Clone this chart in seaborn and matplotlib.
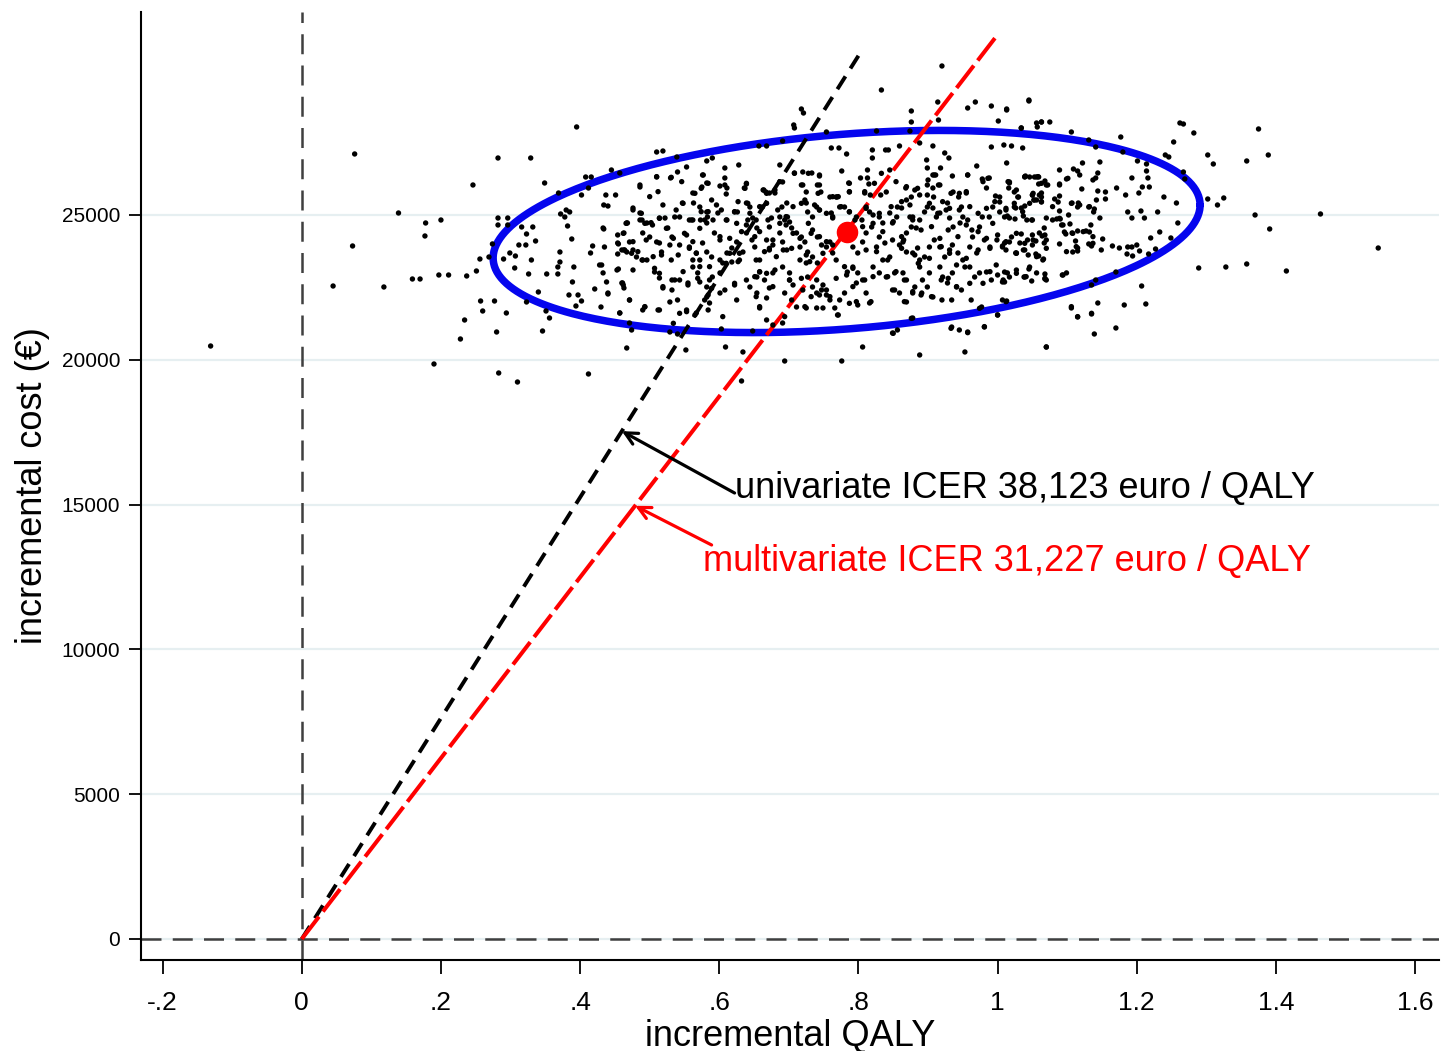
import numpy as np
import pandas as pd
import matplotlib
matplotlib.use("Agg")
import matplotlib.pyplot as plt
import seaborn as sns

# ICER values (euro / QALY)
icer_uni = 38123
icer_multi = 31227
# extent of the two ICER rays on the QALY axis
ray_uni_qaly = [0.0, 0.8]
ray_multi_qaly = [0.0, 1.0]

# point estimate (mean)
mean_qaly = 0.783
mean_cost = 24420

# 95% confidence ellipse: centre, semi-axes, correlation
ell_cx, ell_cy = 0.783, 24430
ell_sx, ell_sy = 0.508, 3490
ell_rho = 0.262

# bootstrap replicates (incremental QALY, incremental cost)
pts_left = [
    (0.076, 27107), (0.282, 26968), (0.329, 26968), (0.395, 28040), (0.246, 26036), (0.349, 26105),
    (0.139, 25069), (0.178, 24724), (0.200, 24827), (0.177, 24275), (0.073, 23930), (0.045, 22548),
    (0.118, 22514), (0.159, 22790), (0.170, 22790), (0.197, 22928), (0.211, 22928), (0.237, 22894),
    (0.251, 23066), (0.256, 23480), (0.269, 23550), (0.274, 24000), (0.282, 24896), (0.296, 24896),
    (0.282, 24655), (0.296, 24655), (0.257, 22030), (0.277, 22030), (0.260, 21685), (0.294, 21616),
    (0.234, 21374), (0.228, 20718), (0.280, 20960), (0.190, 19855), (0.283, 19544), (0.310, 19233),
    (0.412, 19510), (0.346, 20994), (0.356, 21443), (0.351, 21685), (-0.131, 20476), (0.467, 20407),
    (0.316, 24586), (0.332, 24586), (0.323, 24344), (0.336, 24102), (0.312, 23964), (0.322, 23964),
    (0.299, 23688), (0.307, 23584), (0.290, 23480), (0.306, 23170), (0.326, 22963), (0.330, 23446),
    (0.340, 22341), (0.323, 21996), (0.352, 22963), (0.368, 22963), (0.371, 23722), (0.371, 23377),
    (0.368, 23204), (0.391, 23204), (0.389, 22687), (0.384, 22238), (0.397, 22238), (0.402, 22030),
    (0.394, 21858), (0.430, 21823), (0.421, 22445), (0.438, 22687), (0.440, 22272), (0.457, 21616),
    (0.431, 23273), (0.455, 23135), (0.415, 23688), (0.418, 23930), (0.388, 24171), (0.382, 24620),
    (0.372, 25035), (0.378, 24931), (0.380, 25172), (0.385, 25104), (0.434, 24517), (0.454, 24310),
    (0.455, 24000), (0.454, 23653), (0.463, 23792), (0.468, 24724), (0.463, 24379), (0.460, 22652),
    (0.463, 22479), (0.434, 25345), (0.440, 25310), (0.437, 25690), (0.451, 25690), (0.402, 25690),
    (0.412, 25932), (0.408, 26312), (0.416, 26312), (0.369, 25759), (0.445, 26554), (0.457, 26450),
]

pts_top = [
    (0.920, 30145), (0.833, 29316), (0.718, 28660), (0.721, 28522), (0.707, 28108), (0.708, 28004),
    (0.754, 27866), (0.876, 28591), (0.876, 28211), (0.914, 28901), (0.915, 28280), (0.957, 28694),
    (0.968, 28901), (0.991, 28763), (1.013, 28625), (1.045, 28970), (1.001, 28245), (1.034, 28004),
    (1.056, 28177), (1.063, 28211), (0.826, 27900), (0.874, 27900), (0.510, 27175), (0.519, 27210),
    (0.539, 27003), (0.657, 27383), (0.668, 27383), (0.691, 27555),
    (0.761, 27314), (0.772, 27314), (0.783, 27106), (0.820, 27245), (0.820, 26968), (0.839, 27245),
    (0.843, 27245), (0.859, 27383), (0.888, 27486), (0.907, 27383), (0.898, 26900), (0.899, 26623),
    (0.924, 27141), (0.930, 26968), (0.918, 26623), (0.970, 26692), (0.991, 27348), (1.009, 27417),
    (1.020, 27383), (1.036, 27314), (1.013, 26796), (0.907, 26381), (0.911, 26381), (0.935, 26346),
    (0.957, 26381), (0.978, 26243), (0.988, 26278), (1.017, 26105), (1.040, 26346), (1.046, 26312),
    (1.056, 26312), (0.776, 26519), (0.813, 26554), (0.813, 26278), (0.815, 26070), (0.845, 26554),
    (0.687, 26727), (0.708, 26450), (0.720, 26485), (0.733, 26450), (0.744, 26346), (0.628, 26727),
    (0.608, 26623), (0.582, 26865), (0.590, 26968), (0.553, 26658), (0.540, 26485), (0.530, 26278),
    (0.510, 26312), (0.486, 25967), (0.576, 26381), (0.582, 26105), (0.575, 25967), (0.608, 26278),
    (0.611, 25932), (0.639, 26070), (0.636, 25932), (0.667, 25794), (0.680, 25759), (0.691, 26140),
    (0.718, 26036), (0.725, 25794), (0.741, 26036), (0.746, 25794), (0.759, 25621), (0.769, 25621),
    (0.786, 26105), (0.787, 25794), (0.803, 26278), (0.809, 25759), (0.817, 25690), (0.832, 25690),
    (0.840, 25794), (0.868, 25932), (0.881, 25863), (0.876, 25621), (0.869, 25518), (0.899, 26036),
    (0.907, 25932), (0.915, 26036), (0.899, 25690), (0.908, 25621), (0.936, 25794), (0.944, 25621),
    (0.955, 25759), (0.928, 25414), (0.997, 25656), (1.003, 25621), (1.003, 25448), (0.984, 25932),
    (1.016, 25932), (1.029, 25621), (1.050, 25690), (1.056, 25518),
]

pts_mid = [
    (0.433, 24551), (0.467, 24724), (0.476, 25241), (0.486, 25069), (0.489, 24827), (0.496, 24724),
    (0.504, 24655), (0.514, 24896), (0.522, 24896), (0.526, 24551), (0.536, 24931), (0.543, 24931),
    (0.547, 25414), (0.562, 25759), (0.563, 25414), (0.572, 25276), (0.557, 24827), (0.562, 24827),
    (0.573, 24827), (0.582, 24724), (0.583, 24931), (0.582, 25104), (0.598, 25069), (0.611, 24827),
    (0.622, 25104), (0.626, 25104), (0.639, 25414), (0.644, 25276), (0.641, 24827), (0.648, 24896),
    (0.664, 25863), (0.672, 25759), (0.662, 25276), (0.690, 25276), (0.697, 25414), (0.687, 24931),
    (0.694, 24827), (0.698, 24931), (0.701, 24758), (0.675, 24896), (0.672, 24586), (0.723, 25518),
    (0.725, 25414), (0.727, 25104), (0.734, 24931), (0.740, 25276), (0.744, 25172), (0.761, 25069),
    (0.763, 24896), (0.768, 25621), (0.773, 25276), (0.780, 25276), (0.787, 25104), (0.797, 24931),
    (0.805, 24827), (0.811, 25276), (0.816, 25104), (0.821, 25000), (0.830, 24931), (0.835, 24724),
    (0.845, 25069), (0.849, 24724), (0.856, 25276), (0.862, 25241), (0.855, 24931), (0.874, 24931),
    (0.878, 24931), (0.876, 24586), (0.883, 24551), (0.869, 24379), (0.865, 24137), (0.888, 24827),
    (0.895, 25104), (0.899, 25276), (0.907, 25241), (0.912, 24931), (0.917, 25069), (0.926, 25172),
    (0.931, 24896), (0.936, 24586), (0.946, 24724), (0.950, 24931), (0.957, 24827), (0.948, 25276),
    (0.963, 24482), (0.964, 24240), (0.974, 24586), (0.978, 24931), (0.988, 24931), (0.993, 25276),
    (1.003, 25104), (1.010, 24931), (1.017, 24896), (1.024, 25276), (1.034, 25241), (1.042, 24827),
    (1.050, 24827), (1.053, 25518), (1.063, 25621), (1.060, 24379), (1.070, 24137),
    (0.435, 23895), (0.454, 24033), (0.460, 23792), (0.471, 24068), (0.467, 23722), (0.476, 23792),
    (0.481, 23550), (0.489, 23446), (0.496, 23446), (0.490, 24379), (0.500, 24240), (0.510, 24068),
    (0.514, 24033), (0.517, 23722), (0.529, 23964), (0.532, 24240), (0.543, 23964), (0.553, 24310),
    (0.557, 23895), (0.562, 23446), (0.567, 23688), (0.576, 24033), (0.582, 23722), (0.589, 23550),
    (0.593, 24379), (0.601, 24137), (0.611, 23688), (0.618, 23860), (0.625, 24068), (0.629, 23446),
    (0.634, 23722), (0.639, 24379), (0.647, 24137), (0.651, 23895), (0.654, 24551), (0.658, 23446),
    (0.668, 24137), (0.672, 23792), (0.677, 23964), (0.687, 24379), (0.691, 24068), (0.697, 23792),
    (0.704, 24551), (0.711, 24379), (0.718, 24240), (0.716, 23895), (0.723, 24068), (0.727, 23722),
    (0.734, 24482), (0.741, 24240), (0.747, 23964), (0.754, 23895), (0.759, 24068), (0.763, 23688),
    (0.734, 23550), (0.741, 23343), (0.725, 23343), (0.792, 23895), (0.799, 23688), (0.806, 24068),
    (0.811, 24379), (0.819, 24586), (0.826, 23895), (0.830, 24240), (0.838, 24033), (0.845, 23550),
    (0.849, 24137), (0.859, 23964), (0.864, 24068), (0.869, 23722), (0.878, 23688), (0.885, 23860),
    (0.888, 23446), (0.895, 23550), (0.902, 23895), (0.909, 24137), (0.917, 23895), (0.924, 23550),
    (0.931, 23792), (0.935, 23964), (0.943, 23688), (0.950, 23446), (0.953, 23204), (0.960, 23895),
    (0.970, 23688), (0.981, 24137), (0.989, 23895), (0.999, 24137), (1.007, 23895), (1.017, 24068),
    (1.027, 23688), (1.039, 23792), (1.050, 23964), (1.065, 23446),
]

pts_low = [
    (0.428, 23273), (0.433, 23000), (0.453, 23100), (0.461, 22652), (0.440, 22306), (0.457, 21616),
    (0.471, 22065), (0.471, 21270), (0.474, 21029), (0.493, 21823), (0.490, 21720), (0.507, 23031),
    (0.514, 22824), (0.519, 22479), (0.532, 22410), (0.532, 22755), (0.514, 21720), (0.529, 21996),
    (0.543, 22755), (0.555, 22652), (0.540, 22065), (0.553, 21720), (0.567, 21616), (0.562, 23204),
    (0.569, 23000), (0.572, 22687), (0.582, 22514), (0.582, 22168), (0.586, 21961), (0.590, 22859),
    (0.601, 23000), (0.605, 23343), (0.618, 23377), (0.601, 22306), (0.608, 22410), (0.622, 22583),
    (0.625, 22065), (0.639, 22755), (0.644, 22514), (0.654, 22859), (0.658, 23031), (0.665, 22755),
    (0.654, 22306), (0.658, 21789), (0.668, 22134), (0.672, 22479), (0.677, 23000), (0.691, 23204),
    (0.701, 23000), (0.701, 22755), (0.694, 22306), (0.704, 22065), (0.711, 21823), (0.720, 22410),
    (0.727, 22859), (0.734, 22514), (0.740, 22306), (0.747, 22410), (0.754, 22238), (0.749, 21789),
    (0.759, 22065), (0.766, 21789), (0.773, 22065), (0.780, 22306), (0.770, 21547), (0.784, 23031),
    (0.792, 23204), (0.799, 23000), (0.797, 22652), (0.806, 22755), (0.811, 22306), (0.816, 21961),
    (0.799, 21892), (0.821, 23204), (0.830, 23000), (0.835, 23446), (0.840, 22859), (0.852, 23000),
    (0.849, 22410), (0.864, 23000), (0.866, 22755), (0.859, 22306), (0.869, 21996), (0.878, 22306),
    (0.881, 22514), (0.888, 23204), (0.892, 22755), (0.902, 23000), (0.891, 22306), (0.899, 22514),
    (0.907, 22168), (0.917, 23204), (0.921, 22859), (0.928, 22652), (0.935, 23000), (0.941, 22514),
    (0.948, 22410), (0.920, 22065), (0.934, 22065), (0.960, 23204), (0.967, 22859), (0.974, 23000),
    (0.984, 23031), (0.991, 22755), (1.000, 22928), (1.010, 22687), (1.017, 22859), (1.007, 22065),
    (1.027, 23100), (1.039, 22859), (1.046, 23204), (1.056, 23000), (1.070, 22755), (0.977, 21823),
    (1.000, 21547), (0.934, 21132), (0.945, 21029), (0.957, 20960), (0.981, 21132), (0.878, 21443),
    (0.849, 20925), (0.856, 21029), (0.806, 20442), (0.888, 20166), (0.953, 20270), (1.070, 20442),
    (0.776, 19958), (0.694, 19958), (0.632, 19268), (0.609, 20442), (0.634, 20270), (0.552, 20339),
    (0.529, 20960), (0.540, 20891), (0.603, 21064), (0.648, 20994), (0.677, 21201), (0.691, 21270),
    (0.725, 21789), (0.740, 21789),
]

pts_right = [
    (1.045, 28936), (1.013, 28660), (1.063, 28211), (1.075, 28211), (1.057, 28039), (1.034, 28004),
    (1.106, 27866), (1.131, 27590), (1.141, 27348), (1.177, 27693), (1.180, 27175), (1.262, 28177),
    (1.267, 28142), (1.282, 27832), (1.253, 27521), (1.375, 27970), (1.241, 27072), (1.246, 27003),
    (1.302, 27072), (1.310, 26761), (1.358, 26865), (1.389, 27072), (1.267, 26485), (1.269, 26243),
    (1.302, 25552), (1.325, 25587), (1.316, 25345), (1.370, 25000), (1.464, 25035), (1.391, 24517),
    (1.547, 23860), (1.289, 23170), (1.328, 23204), (1.358, 23308), (1.415, 23066), (1.207, 22548),
    (1.213, 21927), (1.182, 21892), (1.170, 23031), (1.144, 21961), (1.106, 21789), (1.115, 21478),
    (1.135, 21581), (1.139, 20891), (1.170, 21098), (1.070, 20442), (1.141, 22755), (1.135, 22583),
    (1.259, 24724), (1.257, 25414), (1.249, 24206), (1.233, 24413), (1.220, 24206), (1.227, 23826),
    (1.217, 23653), (1.239, 25621), (1.230, 25104), (1.218, 25967), (1.208, 25967), (1.216, 26278),
    (1.214, 26519), (1.214, 26761), (1.201, 26865), (1.193, 26278), (1.203, 25759), (1.184, 25690),
    (1.187, 25104), (1.193, 24896), (1.211, 24896), (1.206, 25138), (1.171, 25932), (1.147, 26830),
    (1.144, 26450), (1.141, 26278), (1.122, 26796), (1.109, 26588), (1.115, 26519), (1.089, 26554),
    (1.099, 26243), (1.089, 26070), (1.039, 26312), (1.053, 26312), (1.059, 26312), (1.068, 26174),
    (1.072, 26036), (1.059, 26070), (1.017, 26140), (1.024, 25794), (1.050, 25690), (1.060, 25690),
    (1.063, 25760), (1.030, 25621), (1.052, 25518), (1.063, 25448), (1.082, 25552), (1.089, 25656),
    (1.087, 25448), (1.121, 25898), (1.144, 25828), (1.155, 25794), (1.155, 25552), (1.131, 25276),
    (1.139, 25207), (1.138, 25104), (1.147, 24896), (1.107, 25414), (1.116, 25414), (1.115, 25276),
    (1.102, 25000), (1.089, 25138), (1.085, 24862), (1.090, 24862), (1.070, 24896), (1.049, 24827),
    (1.039, 25310), (1.026, 25241), (1.012, 25172), (1.014, 24965), (1.025, 24862), (1.037, 24965),
    (1.092, 24655), (1.104, 24690), (1.096, 24413), (1.098, 24344), (1.107, 24379), (1.115, 24448),
    (1.127, 24448), (1.132, 24413), (1.134, 24655), (1.151, 24171), (1.067, 24551), (1.064, 24275),
    (1.050, 24310), (1.034, 24344), (1.043, 24137), (1.020, 24240), (1.010, 24033), (1.007, 23930),
    (1.055, 24102), (1.067, 24033), (1.032, 24033), (1.037, 23792), (1.026, 23688), (1.055, 23653),
    (1.059, 23584), (1.066, 23480), (1.089, 24000), (1.108, 23722), (1.112, 24102), (1.115, 23860),
    (1.115, 23757), (1.131, 24000), (1.135, 23930), (1.149, 23792), (1.165, 23930), (1.175, 23860),
    (1.187, 23895), (1.193, 23895), (1.200, 23964), (1.186, 23653), (1.194, 23584), (1.204, 23757),
    (1.010, 23031), (1.014, 23000), (1.007, 22687), (1.038, 22859), (1.049, 22721), (1.045, 23135),
    (1.068, 22963), (1.068, 22790), (1.093, 22928), (1.099, 23000), (1.013, 22030),
]

# extra replicates in the dense core, left of the mean
pts_core_a = [
    (0.510, 26324), (0.531, 26301), (0.546, 26151), (0.577, 26381), (0.584, 26094), (0.574, 25921),
    (0.565, 25748), (0.601, 26001), (0.608, 26036), (0.610, 25725), (0.639, 26094), (0.637, 25921),
    (0.663, 25863), (0.668, 25748), (0.680, 25863), (0.687, 26151), (0.708, 26439), (0.720, 26036),
    (0.728, 26439), (0.744, 26381), (0.744, 26036), (0.742, 25748), (0.763, 25633), (0.771, 25633),
    (0.787, 26094), (0.787, 25806), (0.486, 26036),
    (0.476, 25173), (0.488, 25058), (0.500, 25633), (0.512, 25806), (0.519, 25346), (0.538, 25173),
    (0.548, 25403), (0.560, 24828), (0.574, 25115), (0.584, 25115), (0.589, 25518), (0.596, 25346),
    (0.603, 25173), (0.610, 24828), (0.627, 25461), (0.622, 25115), (0.641, 25403), (0.644, 25058),
    (0.658, 25288), (0.668, 25403), (0.653, 24828), (0.684, 25173), (0.696, 24943), (0.706, 25288),
    (0.718, 25403), (0.737, 25346), (0.744, 25173), (0.754, 25058), (0.763, 24943), (0.775, 25288),
    (0.787, 25115), (0.795, 24828),
    (0.462, 24367), (0.466, 24712), (0.486, 24828), (0.493, 24712), (0.502, 24735), (0.514, 24885),
    (0.524, 24540), (0.534, 24194), (0.550, 24367), (0.562, 24079), (0.572, 24540), (0.579, 24828),
    (0.591, 24828), (0.601, 24252), (0.615, 24194), (0.625, 24712), (0.632, 24425), (0.639, 24655),
    (0.651, 24252), (0.658, 24425), (0.670, 24828), (0.677, 24137), (0.687, 24712), (0.696, 24655),
    (0.706, 24367), (0.716, 24194), (0.728, 24712), (0.732, 24367), (0.744, 24252), (0.754, 24079),
    (0.763, 23964), (0.476, 24079), (0.495, 24137),
    (0.464, 23792), (0.474, 23677), (0.483, 23734), (0.490, 23446), (0.505, 23561), (0.517, 23619),
    (0.531, 23446), (0.541, 23619), (0.557, 23849), (0.567, 23677), (0.572, 23446), (0.586, 23216),
    (0.601, 23446), (0.610, 23331), (0.627, 23389), (0.615, 23677), (0.629, 23677), (0.653, 23446),
    (0.665, 23734), (0.672, 23849), (0.682, 23561), (0.692, 23792), (0.704, 23849), (0.716, 23446),
    (0.725, 23619), (0.730, 23389), (0.749, 23677), (0.768, 23446), (0.780, 23216), (0.792, 23159),
    (0.462, 22583), (0.476, 23101), (0.507, 23159), (0.514, 22986), (0.519, 22526), (0.536, 22756),
    (0.548, 23044), (0.555, 22583), (0.572, 23216), (0.569, 22813), (0.586, 22756), (0.589, 22468),
    (0.622, 22641), (0.651, 22871), (0.658, 23044), (0.668, 22986), (0.680, 23101), (0.701, 22756),
    (0.706, 22583), (0.718, 22813), (0.740, 22756), (0.749, 22583), (0.754, 22410), (0.768, 22813),
    (0.783, 22928), (0.792, 22526), (0.677, 22526),
    (0.471, 22065), (0.493, 21835), (0.512, 21720), (0.543, 21605), (0.553, 21662), (0.565, 21547),
    (0.584, 21720), (0.605, 21490), (0.653, 22180), (0.658, 21835), (0.668, 21375), (0.694, 21490),
    (0.723, 21835), (0.732, 22180), (0.744, 22238), (0.759, 22180), (0.771, 21547), (0.787, 21950),
    (0.797, 22008), (0.534, 21260), (0.584, 22238), (0.579, 22065),
]

# extra replicates in the dense core, right of the mean
pts_core_b = [
    (0.833, 26439), (0.854, 26151), (0.869, 25979), (0.885, 25921), (0.900, 26209), (0.909, 26381),
    (0.917, 26036), (0.933, 25748), (0.945, 25748), (0.955, 25806), (0.957, 26381), (0.979, 26151),
    (0.986, 26266), (1.015, 26151), (1.027, 25863), (1.039, 26324), (1.058, 26324), (1.051, 25748),
    (1.063, 26094), (1.070, 26036), (1.089, 26036), (1.101, 26266), (1.118, 26381), (1.137, 26209),
    (0.809, 25806), (0.823, 26094),
    (0.811, 25230), (0.830, 25058), (0.847, 25288), (0.862, 25461), (0.874, 25346), (0.888, 25691),
    (0.902, 25403), (0.914, 25058), (0.921, 25461), (0.931, 25230), (0.945, 25173), (0.960, 25288),
    (0.972, 25058), (0.984, 25230), (0.996, 25461), (1.012, 25230), (1.024, 25403), (1.036, 25115),
    (1.046, 25403), (1.063, 25461), (1.079, 25288), (1.089, 24885), (1.106, 25403), (1.118, 25346),
    (1.132, 25288), (1.142, 25518),
    (0.806, 24597), (0.821, 24712), (0.835, 24425), (0.850, 24770), (0.862, 24252), (0.878, 24828),
    (0.890, 24482), (0.905, 24597), (0.917, 24194), (0.929, 24482), (0.943, 24252), (0.955, 24655),
    (0.972, 24425), (0.984, 24194), (0.993, 24712), (1.000, 24310), (1.012, 24079), (1.027, 24367),
    (1.039, 24022), (1.051, 24137), (1.068, 24310), (1.079, 24828), (1.094, 24655), (1.108, 24367),
    (1.123, 24425), (1.137, 24252),
    (0.811, 23792), (0.826, 23734), (0.842, 23446), (0.862, 23849), (0.881, 23619), (0.886, 23331),
    (0.902, 23504), (0.919, 23907), (0.931, 23677), (0.941, 23274), (0.955, 23504), (0.972, 23792),
    (0.989, 23849), (0.998, 23274), (1.012, 23792), (1.027, 23677), (1.044, 23619), (1.056, 23561),
    (1.070, 23849), (1.099, 23734), (1.113, 23907), (1.137, 24022),
    (0.809, 22756), (0.821, 22871), (0.842, 22871), (0.854, 23044), (0.869, 22756), (0.878, 22353),
    (0.890, 22238), (0.905, 22180), (0.919, 22756), (0.929, 22813), (0.941, 22526), (0.960, 22641),
    (0.979, 22641), (0.989, 23044), (1.008, 22756), (1.027, 22986), (1.041, 22871), (1.068, 22813),
    (1.094, 22928), (0.818, 22008), (0.866, 22008), (0.852, 22410),
    (0.876, 21432), (0.962, 22065), (0.974, 21777), (1.000, 21547), (1.012, 22008), (0.850, 20914),
    (0.933, 21087), (0.957, 20937), (0.981, 21145), (1.106, 21835), (1.115, 21490), (1.135, 21605),
]

boot = pd.DataFrame(pts_left + pts_top + pts_mid + pts_low + pts_right + pts_core_a + pts_core_b,
                    columns=["qaly", "cost"])

x_ticks = [-0.2, 0, 0.2, 0.4, 0.6, 0.8, 1, 1.2, 1.4, 1.6]
x_tick_labels = ["-.2", "0", ".2", ".4", ".6", ".8", "1", "1.2", "1.4", "1.6"]
y_ticks = [0, 5000, 10000, 15000, 20000, 25000]

sns.set_style("white")
plt.rcParams['font.family'] = ['Liberation Sans', 'DejaVu Sans']
plt.rcParams['text.color'] = 'black'
plt.rcParams['axes.labelcolor'] = 'black'

fig = plt.figure(figsize=(14.54, 10.51), dpi=100)
ax = fig.add_axes([0.097, 0.0866, 0.893, 0.902])

ax.set_xlim(-0.231, 1.635)
ax.set_ylim(-725, 32010)

# grid + reference axes
ax.yaxis.grid(True, color="#e6eff1", lw=1.6)
ax.set_axisbelow(True)
ax.axhline(0, color="#3f3f3f", lw=1.8, dashes=(8, 4.5), zorder=1.5)
ax.axvline(0, color="#3f3f3f", lw=1.8, dashes=(8, 4.5), zorder=1.5)

# confidence ellipse
t = np.linspace(0, 2 * np.pi, 400)
ex = ell_cx + ell_sx * np.cos(t)
ey = ell_cy + ell_sy * (ell_rho * np.cos(t) + np.sqrt(1 - ell_rho ** 2) * np.sin(t))
ax.plot(ex, ey, color="#0505ee", lw=5.4, zorder=2)

# ICER rays
ux = np.array(ray_uni_qaly)
mx = np.array(ray_multi_qaly)
ax.plot(ux, ux * icer_uni, color="black", lw=2.8, dashes=(3.9, 2.4), zorder=3)
ax.plot(mx, mx * icer_multi, color="#ff0000", lw=2.9, dashes=(7, 1.6), zorder=3)

# bootstrap cloud
sns.scatterplot(data=boot, x="qaly", y="cost", color="black", s=15,
                edgecolor="none", ax=ax, zorder=4)

# point estimate
ax.plot([mean_qaly], [mean_cost], "o", color="#ff0000", markersize=14.5, zorder=5)

# labels with arrows
ax.annotate("", xy=(0.460, 0.460 * icer_uni), xytext=(0.622, 15400),
            arrowprops=dict(arrowstyle="->", color="black", lw=2.3,
                            mutation_scale=22, shrinkA=0, shrinkB=0), zorder=6)
ax.text(0.622, 15560, "univariate ICER 38,123 euro / QALY", fontsize=26,
        color="black", ha="left", va="center")
ax.annotate("", xy=(0.479, 0.479 * icer_multi), xytext=(0.589, 13605),
            arrowprops=dict(arrowstyle="->", color="#ff0000", lw=2.3,
                            mutation_scale=22, shrinkA=0, shrinkB=0), zorder=6)
ax.text(0.576, 13040, "multivariate ICER 31,227 euro / QALY", fontsize=26,
        color="#ff0000", ha="left", va="center")

ax.set_xticks(x_ticks)
ax.set_xticklabels(x_tick_labels)
ax.set_yticks(y_ticks)
ax.tick_params(axis="x", direction="out", length=10, width=1.3, pad=12,
               labelsize=19, colors="black", bottom=True)
ax.tick_params(axis="y", direction="out", length=9, width=1.3, pad=6,
               labelsize=15, colors="black", left=True)

ax.set_xlabel("incremental QALY", fontsize=26, labelpad=3)
ax.set_ylabel("incremental cost (€)", fontsize=26, labelpad=8)

sns.despine(ax=ax)
for side in ["left", "bottom"]:
    ax.spines[side].set_color("black")
    ax.spines[side].set_linewidth(1.5)

fig.savefig("out.png", dpi=100)
